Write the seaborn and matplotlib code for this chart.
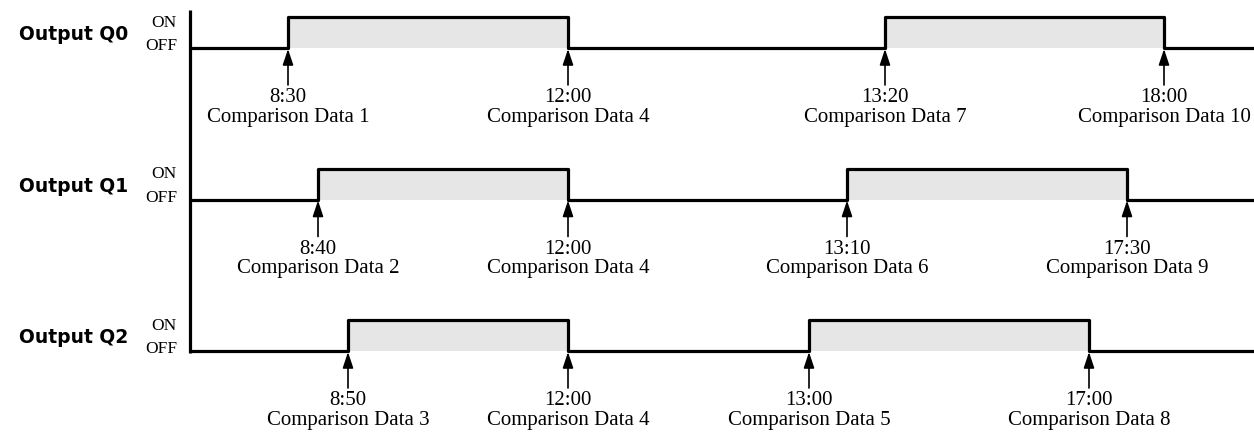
import matplotlib
matplotlib.use("Agg")
import matplotlib.pyplot as plt
import seaborn as sns
import pandas as pd

# ---- data ----
outputs = ["Output Q0", "Output Q1", "Output Q2"]
# schematic positions of the ON/OFF edges along the time axis
q0_edges = [288, 568, 885, 1164]
q1_edges = [318, 568, 847, 1127]
q2_edges = [348, 568, 809, 1089]
q0_times = ["8:30", "12:00", "13:20", "18:00"]
q1_times = ["8:40", "12:00", "13:10", "17:30"]
q2_times = ["8:50", "12:00", "13:00", "17:00"]
q0_labels = ["Comparison Data 1", "Comparison Data 4", "Comparison Data 7", "Comparison Data 10"]
q1_labels = ["Comparison Data 2", "Comparison Data 4", "Comparison Data 6", "Comparison Data 9"]
q2_labels = ["Comparison Data 3", "Comparison Data 4", "Comparison Data 5", "Comparison Data 8"]

edges = [q0_edges, q1_edges, q2_edges]
times = [q0_times, q1_times, q2_times]
labels = [q0_labels, q1_labels, q2_labels]

# ---- layout ----
W, H = 1254, 434
x_axis = 190
x_end = 1254
baselines = [48, 199.5, 351]
pulse_h = 31
fill_color = "#e6e6e6"
serif = "Liberation Serif"

sns.set_theme(style="white")
plt.rcParams["font.family"] = ["DejaVu Sans"]

fig = plt.figure(figsize=(W / 100, H / 100), dpi=100)
ax = fig.add_axes([0, 0, 1, 1])
ax.set_xlim(0, W)
ax.set_ylim(H, 0)
ax.axis("off")

# vertical axis line
ax.plot([x_axis, x_axis], [10, baselines[-1] + 1.5], color="black", lw=2.3,
        solid_capstyle="butt", zorder=3)

for i, (name, e, t, lab) in enumerate(zip(outputs, edges, times, labels)):
    b = baselines[i]
    top = b - pulse_h
    # pulse fills
    for s, f in [(e[0], e[1]), (e[2], e[3])]:
        ax.fill_between([s, f], [b, b], [top, top], color=fill_color, lw=0, zorder=1)
    # waveform
    xs = [x_axis, e[0], e[0], e[1], e[1], e[2], e[2], e[3], e[3], x_end]
    ys = [b, b, top, top, b, b, top, top, b, b]
    df = pd.DataFrame({"x": xs, "y": ys})
    sns.lineplot(data=df, x="x", y="y", sort=False, estimator=None, color="black",
                 lw=2.3, ax=ax, zorder=2)
    # arrows and labels
    for xe, tt, ll in zip(e, t, lab):
        ax.annotate("", xy=(xe, b + 1), xytext=(xe, b + 37),
                    arrowprops=dict(arrowstyle="-|>,head_length=0.6,head_width=0.2",
                                    color="black", lw=1.2,
                                    mutation_scale=16, shrinkA=0, shrinkB=0),
                    zorder=4)
        ax.text(xe, b + 54, tt, ha="center", va="baseline", fontsize=15,
                family=serif, color="black")
        ax.text(xe, b + 74, ll, ha="center", va="baseline", fontsize=15,
                family=serif, color="black")
    # row labels
    ax.text(128, b - 8, name, ha="right", va="baseline", fontsize=13.5,
            fontweight="bold", color="black")
    ax.text(177, b - 21, "ON", ha="right", va="baseline", fontsize=12.5,
            family=serif, color="black")
    ax.text(177, b + 2, "OFF", ha="right", va="baseline", fontsize=12.5,
            family=serif, color="black")

ax.set_xlabel("")
ax.set_ylabel("")
fig.savefig("out.png", dpi=100)
